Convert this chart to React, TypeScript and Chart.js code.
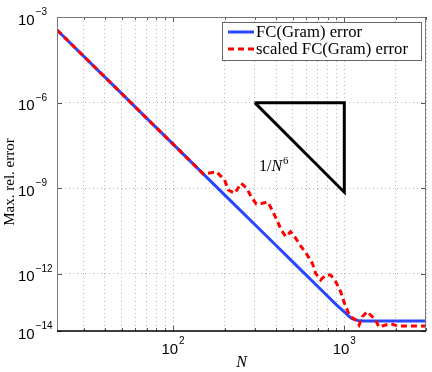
import React, { useEffect, useRef } from 'react';
import { Chart, registerables } from 'chart.js';
Chart.register(...registerables);

// ---- data ----
const N_BLUE = [21, 30, 40, 50, 70, 100, 150, 200, 300, 400, 500, 700, 900, 1000, 1050, 1100, 1150, 1200, 1300, 1500, 2000, 2500, 3000];
const ERR_BLUE = [3.51e-4, 4.28e-5, 7.83e-6, 2.10e-6, 2.88e-7, 3.52e-8, 3.21e-9, 5.89e-10, 5.38e-11, 9.86e-12, 2.64e-12, 3.63e-13, 8.24e-14, 4.68e-14, 3.55e-14, 2.82e-14, 2.51e-14, 2.34e-14, 2.26e-14, 2.24e-14, 2.24e-14, 2.24e-14, 2.24e-14];

const N_RED = [21, 30, 40, 50, 70, 100, 150, 180, 200, 210, 229, 250, 269, 286, 306, 333, 358, 382, 408, 428, 455, 486, 520, 556, 608, 651, 680, 728, 779, 833, 890, 952, 994, 1049, 1088, 1164, 1220, 1273, 1362, 1423, 1523, 1592, 1741, 1862, 2037, 2437, 3000];
const ERR_RED = [3.51e-4, 4.28e-5, 7.83e-6, 2.10e-6, 2.88e-7, 3.52e-8, 3.21e-9, 3.72e-9, 1.95e-9, 8.71e-10, 6.68e-10, 1.50e-9, 1.00e-9, 5.08e-10, 2.82e-10, 2.99e-10, 3.31e-10, 1.55e-10, 6.76e-11, 3.47e-11, 2.02e-11, 3.02e-11, 1.78e-11, 9.55e-12, 4.57e-12, 2.34e-12, 1.05e-12, 6.17e-13, 9.12e-13, 9.12e-13, 5.37e-13, 2.40e-13, 1.07e-13, 4.79e-14, 3.16e-14, 2.45e-14, 1.62e-14, 3.16e-14, 4.79e-14, 3.63e-14, 2.45e-14, 1.38e-14, 1.62e-14, 1.82e-14, 1.51e-14, 1.51e-14, 1.51e-14];

const TRI_N = [300, 1000, 1000, 300];
const TRI_ERR = [1e-6, 1e-6, 7.29e-10, 1e-6];

const SERIES_LABELS = ['FC(Gram) error', 'scaled FC(Gram) error'];
const X_MAJOR = [100, 1000];
const X_MAJOR_EXP = ['2', '3'];
const X_MINOR = [30, 40, 50, 60, 70, 80, 90, 200, 300, 400, 500, 600, 700, 800, 900, 2000, 3000];
const Y_TICKS = [1e-14, 1e-12, 1e-9, 1e-6, 1e-3];
const Y_TICK_EXP = ['\u221214', '\u221212', '\u22129', '\u22126', '\u22123'];
const X_MIN = 21;
const X_MAX = 3000;
const Y_MIN = 1e-14;
const Y_MAX = 1e-3;

const BLUE = 'rgb(40,70,255)';
const RED = '#ff0000';

const pts = (xs: number[], ys: number[]) => xs.map((x, i) => ({ x, y: ys[i] }));

export default function App() {
  const ref = useRef<HTMLCanvasElement>(null);
  useEffect(() => {
    const decor = {
      id: 'decor',
      afterDraw(chart: any) {
        const ctx = chart.ctx as CanvasRenderingContext2D;
        const a = chart.chartArea;
        const xs = chart.scales.x;
        const ys = chart.scales.y;
        ctx.save();
        // tick marks
        ctx.strokeStyle = '#555';
        ctx.lineWidth = 1;
        ctx.beginPath();
        const allX = [...X_MINOR.map((v) => [v, 3]), ...X_MAJOR.map((v) => [v, 5])];
        for (const [v, len] of allX) {
          const px = Math.round(xs.getPixelForValue(v)) + 0.5;
          ctx.moveTo(px, a.bottom);
          ctx.lineTo(px, a.bottom - len);
          ctx.moveTo(px, a.top);
          ctx.lineTo(px, a.top + len);
        }
        for (const v of Y_TICKS) {
          const py = Math.round(ys.getPixelForValue(v)) + 0.5;
          ctx.moveTo(a.left, py);
          ctx.lineTo(a.left + 5, py);
          ctx.moveTo(a.right, py);
          ctx.lineTo(a.right - 5, py);
        }
        ctx.stroke();
        // box
        ctx.strokeStyle = '#777';
        ctx.beginPath();
        ctx.moveTo(Math.round(a.left) + 0.5, a.bottom);
        ctx.lineTo(Math.round(a.left) + 0.5, Math.round(a.top) + 0.5);
        ctx.lineTo(Math.round(a.right) - 0.5, Math.round(a.top) + 0.5);
        ctx.lineTo(Math.round(a.right) - 0.5, a.bottom);
        ctx.stroke();
        ctx.strokeStyle = '#000';
        ctx.lineWidth = 1.5;
        ctx.beginPath();
        ctx.moveTo(a.left, Math.round(a.bottom));
        ctx.lineTo(a.right, Math.round(a.bottom));
        ctx.stroke();

        // tick labels
        ctx.fillStyle = '#000';
        ctx.textBaseline = 'alphabetic';
        Y_TICKS.forEach((v, i) => {
          const py = ys.getPixelForValue(v);
          ctx.font = '15px "Liberation Sans", Arial, sans-serif';
          ctx.textAlign = 'left';
          ctx.fillText('10', 18, py + 7.5);
          const w = ctx.measureText('10').width;
          ctx.font = '10px "Liberation Sans", Arial, sans-serif';
          ctx.fillText(Y_TICK_EXP[i], 18 + w + 1, py - 2);
        });
        X_MAJOR.forEach((v, i) => {
          const px = xs.getPixelForValue(v);
          ctx.font = '15px "Liberation Sans", Arial, sans-serif';
          const w1 = ctx.measureText('10').width;
          ctx.font = '10px "Liberation Sans", Arial, sans-serif';
          const w2 = ctx.measureText(X_MAJOR_EXP[i]).width;
          const x0 = px - (w1 + w2 + 1) / 2;
          ctx.textAlign = 'left';
          ctx.font = '15px "Liberation Sans", Arial, sans-serif';
          ctx.fillText('10', x0, 353.5);
          ctx.font = '10px "Liberation Sans", Arial, sans-serif';
          ctx.fillText(X_MAJOR_EXP[i], x0 + w1 + 1, 344);
        });

        // axis titles
        ctx.font = 'italic 16px "Liberation Serif", serif';
        ctx.textAlign = 'center';
        ctx.fillText('N', (a.left + a.right) / 2, 367);
        ctx.save();
        ctx.translate(10, 182);
        ctx.rotate(-Math.PI / 2);
        ctx.font = '15px "Liberation Serif", serif';
        ctx.textBaseline = 'middle';
        ctx.fillText('Max. rel. error', 0, 0);
        ctx.restore();

        // slope label 1/N^6
        ctx.textAlign = 'left';
        ctx.textBaseline = 'alphabetic';
        ctx.font = '16px "Liberation Serif", serif';
        let tx = 259;
        ctx.fillText('1/', tx, 171);
        tx += ctx.measureText('1/').width;
        ctx.font = 'italic 16px "Liberation Serif", serif';
        ctx.fillText('N', tx, 171);
        tx += ctx.measureText('N').width + 1;
        ctx.font = '11px "Liberation Serif", serif';
        ctx.fillText('6', tx, 164);

        // legend
        const lx = 222.5, ly = 22.5, lw = 199, lh = 38;
        ctx.fillStyle = '#fff';
        ctx.fillRect(lx, ly, lw, lh);
        ctx.strokeStyle = '#666';
        ctx.lineWidth = 1;
        ctx.strokeRect(lx, ly, lw, lh);
        const ds = chart.data.datasets;
        const rows = [
          { y: 32, d: ds[1] },
          { y: 49, d: ds[0] },
        ];
        ctx.font = '16.7px "Liberation Serif", serif';
        for (const r of rows) {
          ctx.strokeStyle = r.d.borderColor;
          ctx.lineWidth = 3;
          ctx.setLineDash(r.d.borderDash || []);
          ctx.beginPath();
          ctx.moveTo(228, r.y);
          ctx.lineTo(254, r.y);
          ctx.stroke();
          ctx.setLineDash([]);
          ctx.fillStyle = '#000';
          ctx.fillText(r.d.label, 256, r.y + 4.5);
        }
        ctx.restore();
      },
    };

    const chart = new Chart(ref.current as HTMLCanvasElement, {
      type: 'line',
      data: {
        datasets: [
          {
            label: SERIES_LABELS[1],
            data: pts(N_RED, ERR_RED),
            borderColor: RED,
            borderWidth: 3,
            borderDash: [6, 4],
            pointRadius: 0,
            tension: 0,
            order: 0,
          },
          {
            label: SERIES_LABELS[0],
            data: pts(N_BLUE, ERR_BLUE),
            borderColor: BLUE,
            borderWidth: 3,
            pointRadius: 0,
            tension: 0,
            order: 1,
          },
          {
            label: 'slope',
            data: pts(TRI_N, TRI_ERR),
            borderColor: '#000',
            borderWidth: 3,
            borderJoinStyle: 'miter',
            pointRadius: 0,
            tension: 0,
            order: 2,
          },
        ],
      } as any,
      options: {
        animation: false,
        responsive: true,
        maintainAspectRatio: false,
        layout: { padding: { top: 17, right: 6, left: 0, bottom: 0 } },
        plugins: { legend: { display: false }, tooltip: { enabled: false } },
        scales: {
          x: {
            type: 'logarithmic',
            min: X_MIN,
            max: X_MAX,
            afterBuildTicks: (s: any) => {
              s.ticks = [...X_MINOR, ...X_MAJOR].sort((p, q) => p - q).map((v) => ({ value: v }));
            },
            afterFit: (s: any) => {
              s.height = 41;
            },
            ticks: { display: false },
            grid: { color: '#b8b8b8', lineWidth: 1, drawTicks: false },
            border: { display: false, dash: [1, 3] },
          },
          y: {
            type: 'logarithmic',
            min: Y_MIN,
            max: Y_MAX,
            afterBuildTicks: (s: any) => {
              s.ticks = Y_TICKS.map((v) => ({ value: v }));
            },
            afterFit: (s: any) => {
              s.width = 57;
            },
            ticks: { display: false },
            grid: { color: '#b8b8b8', lineWidth: 1, drawTicks: false },
            border: { display: false, dash: [1, 3] },
          },
        },
      } as any,
      plugins: [decor],
    });
    return () => chart.destroy();
  }, []);
  return (
    <div style={{ position: 'absolute', left: 0, top: 0, width: 432, height: 372, background: '#fff' }}>
      <canvas ref={ref} />
    </div>
  );
}
